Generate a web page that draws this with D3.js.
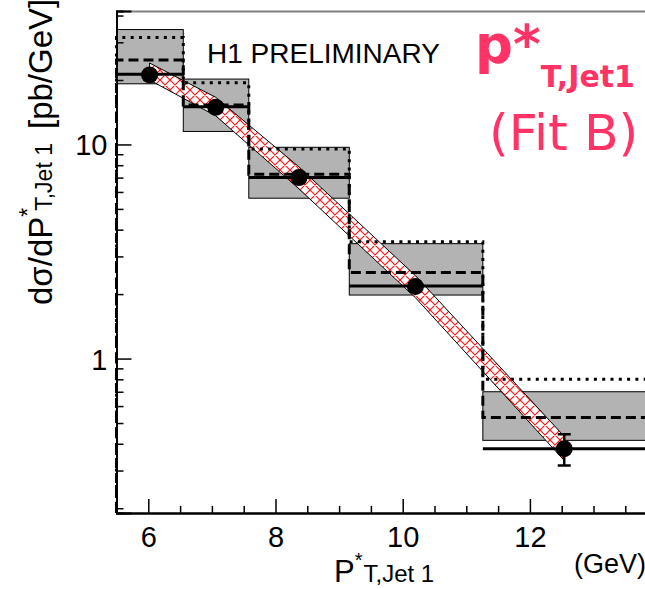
<!DOCTYPE html>
<html>
<head>
<meta charset="utf-8">
<script src="https://cdn.jsdelivr.net/npm/d3@7"></script>
<style>
  body { margin: 0; background: #fff; }
  svg { display: block; font-family: "Liberation Sans", Arial, sans-serif; }
</style>
</head>
<body>
<svg id="chart" width="645" height="589"></svg>
<script>
/* bins of the measurement (GeV) */
var binEdges = [5.5, 6.55, 7.58, 9.16, 11.26, 14.5];
/* grey boxes: uncertainty of the prediction */
var boxHigh = [34.4, 20.2, 9.7, 3.44, 0.70];
var boxLow = [19.2, 11.5, 5.61, 1.98, 0.415];
/* histogram lines */
var solidVals = [21.3, 15.0, 7.0, 2.18, 0.379];
var dashedVals = [24.8, 15.3, 7.26, 2.52, 0.53];
var dottedVals = [31.6, 19.4, 9.53, 3.51, 0.80];
/* data points */
var pointX = [6.02, 7.06, 8.37, 10.2, 12.54];
var pointY = [21.1, 14.9, 7.0, 2.17, 0.379];
var errUp = [1.0, 0.7, 0.3, 0.1, 0.064];
var errDown = [1.0, 0.7, 0.3, 0.1, 0.062];
/* hatched fit band */
var bandHigh = [24.0, 16.6, 7.85, 2.44, 0.433];
var bandLow = [20.0, 13.6, 6.2, 1.925, 0.334];
/* axis ticks */
var xTicks = [6, 8, 10, 12];
var yTicks = [1, 10];

var pink = "#ff3366";

var svg = d3.select("#chart");

var x = d3.scaleLinear().domain([5.5, 14]).range([116.5, 657.1]);
var y = d3.scaleLog().domain([0.19, 42]).range([513, 11]);

/* hatch pattern for the band: red crossing diagonals on white */
var defs = svg.append("defs");
var pat = defs.append("pattern")
    .attr("id", "hatch")
    .attr("patternUnits", "userSpaceOnUse")
    .attr("width", 10)
    .attr("height", 10);
pat.append("rect").attr("width", 10).attr("height", 10).attr("fill", "#fff");
pat.append("path")
    .attr("d", "M0,0L10,10M10,0L0,10M-1,9L1,11M9,-1L11,1M-1,1L1,-1M9,11L11,9")
    .attr("stroke", "#ff1a1a")
    .attr("stroke-width", 1.2);

var bins = d3.range(boxHigh.length);

/* grey boxes */
svg.append("g").selectAll("rect")
  .data(bins)
  .enter().append("rect")
    .attr("x", function(i) { return x(binEdges[i]); })
    .attr("y", function(i) { return y(boxHigh[i]); })
    .attr("width", function(i) { return x(binEdges[i + 1]) - x(binEdges[i]); })
    .attr("height", function(i) { return y(boxLow[i]) - y(boxHigh[i]); })
    .attr("fill", "#b3b3b3")
    .attr("stroke", "#000")
    .attr("stroke-width", 1);

/* fit band */
var band = d3.area()
    .x(function(i) { return x(pointX[i]); })
    .y0(function(i) { return y(bandLow[i]); })
    .y1(function(i) { return y(bandHigh[i]); });

svg.append("path")
    .datum(bins)
    .attr("d", band)
    .attr("fill", "url(#hatch)")
    .attr("stroke", "#000")
    .attr("stroke-width", 1);

/* step histograms starting from the bottom of the frame */
function stepPoints(vals) {
  var pts = [[binEdges[0], y.domain()[0]]];
  vals.forEach(function(v, i) { pts.push([binEdges[i], v]); });
  pts.push([binEdges[vals.length], vals[vals.length - 1]]);
  return pts;
}
var step = d3.line()
    .x(function(d) { return x(d[0]); })
    .y(function(d) { return y(d[1]); })
    .curve(d3.curveStepAfter);

svg.append("path")
    .attr("d", step(stepPoints(dottedVals)))
    .attr("fill", "none")
    .attr("stroke", "#000")
    .attr("stroke-width", 3)
    .attr("stroke-dasharray", "3,5.3");

svg.append("path")
    .attr("d", step(stepPoints(dashedVals)))
    .attr("fill", "none")
    .attr("stroke", "#000")
    .attr("stroke-width", 3)
    .attr("stroke-dasharray", "10,5");

/* solid horizontal segments */
svg.append("g").selectAll("line")
  .data(bins)
  .enter().append("line")
    .attr("x1", function(i) { return x(binEdges[i]); })
    .attr("x2", function(i) { return x(binEdges[i + 1]); })
    .attr("y1", function(i) { return y(solidVals[i]); })
    .attr("y2", function(i) { return y(solidVals[i]); })
    .attr("stroke", "#000")
    .attr("stroke-width", 3);

/* error bars and points */
var pts = svg.append("g");
pts.selectAll(".err")
  .data(bins)
  .enter().append("path")
    .attr("class", "err")
    .attr("d", function(i) {
      var cx = x(pointX[i]), t = y(pointY[i] + errUp[i]), b = y(pointY[i] - errDown[i]);
      return "M" + cx + "," + t + "V" + b +
             "M" + (cx - 6.5) + "," + t + "H" + (cx + 6.5) +
             "M" + (cx - 6.5) + "," + b + "H" + (cx + 6.5);
    })
    .attr("stroke", "#000")
    .attr("stroke-width", 2.5)
    .attr("fill", "none");

pts.selectAll("circle")
  .data(bins)
  .enter().append("circle")
    .attr("cx", function(i) { return x(pointX[i]); })
    .attr("cy", function(i) { return y(pointY[i]); })
    .attr("r", 8.5)
    .attr("fill", "#000");

/* frame */
svg.append("line")
    .attr("x1", 116).attr("x2", 645)
    .attr("y1", 11.5).attr("y2", 11.5)
    .attr("stroke", "#808080")
    .attr("stroke-width", 2);

/* y axis: minor and major ticks pointing inside */
var yMinor = y.ticks().filter(function(v) { return yTicks.indexOf(v) < 0; });
var yAxisG = svg.append("g").attr("transform", "translate(116.5,0)");
yAxisG.call(d3.axisLeft(y).tickValues(yMinor).tickSize(-7).tickFormat(""));
yAxisG.append("g").call(d3.axisLeft(y).tickValues(yTicks).tickSize(-15).tickPadding(9)
    .tickFormat(d3.format("d")));
yAxisG.selectAll("path.domain").attr("stroke-width", 2);
yAxisG.selectAll(".tick line").attr("stroke-width", 1.5);
yAxisG.selectAll("text")
    .attr("font-size", 29)
    .attr("font-family", "Liberation Sans, Arial, sans-serif")
    .attr("dy", "0.36em");

/* x axis */
var xMinor = d3.range(6.5, 14, 0.5).filter(function(v) { return xTicks.indexOf(v) < 0; });
var xAxisG = svg.append("g").attr("transform", "translate(0,513)");
xAxisG.call(d3.axisBottom(x).tickValues(xMinor).tickSize(-7).tickFormat(""));
xAxisG.append("g").call(d3.axisBottom(x).tickValues(xTicks).tickSize(-14).tickPadding(13)
    .tickFormat(d3.format("d")));
xAxisG.selectAll("path.domain").attr("stroke-width", 2);
xAxisG.selectAll(".tick line").attr("stroke-width", 1.5);
xAxisG.selectAll("text")
    .attr("font-size", 29)
    .attr("font-family", "Liberation Sans, Arial, sans-serif")
    .attr("dy", "0.71em");

/* axis titles */
var xt = svg.append("text")
    .attr("x", 334).attr("y", 582)
    .attr("font-size", 31);
xt.append("tspan").text("P");
xt.append("tspan").attr("font-size", 20).attr("dy", -15).text("*");
xt.append("tspan").attr("font-size", 24).attr("dy", 15).attr("dx", 1).text("T,Jet 1");

svg.append("text")
    .attr("x", 574).attr("y", 573)
    .attr("font-size", 27)
    .text("(GeV)");

var yt = svg.append("text")
    .attr("transform", "translate(52,305) rotate(-90)")
    .attr("font-size", 33);
yt.append("tspan").text("dσ/dP");
yt.append("tspan").attr("font-size", 23).attr("dy", -16).text("*");
yt.append("tspan").attr("font-size", 23).attr("dy", 16).attr("dx", -3).text("T,Jet 1");
yt.append("tspan").attr("dx", 14).text("[pb/GeV]");

/* labels inside the frame */
svg.append("text")
    .attr("x", 207).attr("y", 63)
    .attr("font-size", 28)
    .text("H1 PRELIMINARY");

var lab = svg.append("text")
    .attr("x", 475).attr("y", 63)
    .attr("fill", pink)
    .attr("font-family", "DejaVu Sans, sans-serif")
    .attr("font-weight", "bold")
    .attr("font-size", 53);
lab.append("tspan").text("p*");
lab.append("tspan").attr("font-size", 30).attr("dy", 24).text("T,Jet1");

svg.append("text")
    .attr("x", 489).attr("y", 150)
    .attr("fill", pink)
    .attr("font-family", "DejaVu Sans, sans-serif")
    .attr("font-size", 50.5)
    .text("(Fit B)");
</script>
</body>
</html>
